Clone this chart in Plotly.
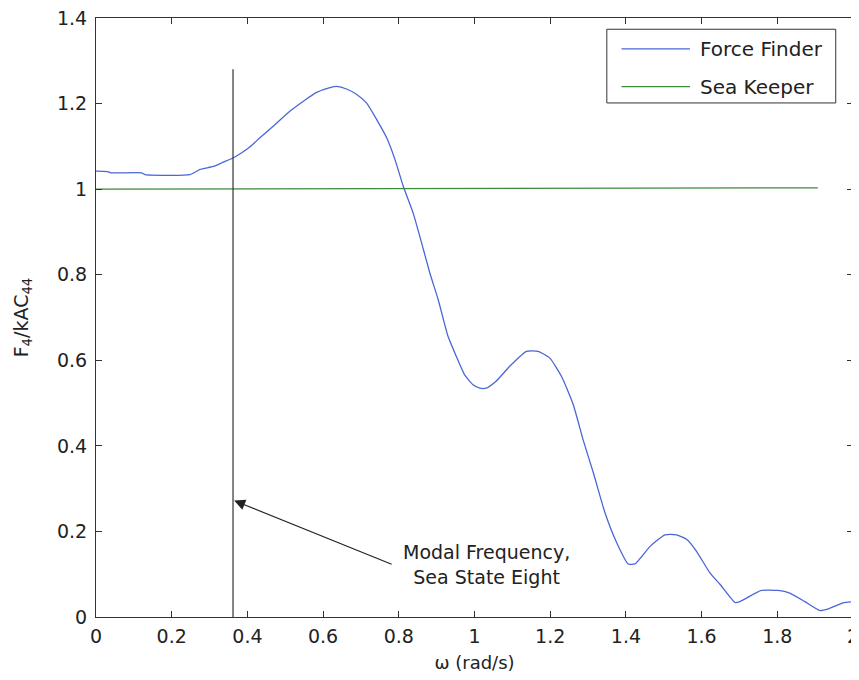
import plotly.graph_objects as go

# Force Finder curve
omega_ff = [0, 0.03, 0.04, 0.12, 0.13, 0.248, 0.275, 0.31, 0.336, 0.358, 0.385, 0.407,
            0.433, 0.468, 0.512, 0.547, 0.583, 0.618, 0.636, 0.662, 0.689, 0.715, 0.742,
            0.768, 0.790, 0.812, 0.838, 0.865, 0.882, 0.904, 0.930, 0.952, 0.974, 0.996,
            1.014, 1.031, 1.057, 1.093, 1.137, 1.168, 1.199, 1.230, 1.261, 1.287, 1.314,
            1.345, 1.376, 1.406, 1.424, 1.464, 1.503, 1.534, 1.561, 1.587, 1.622, 1.649,
            1.688, 1.701, 1.758, 1.802, 1.833, 1.873, 1.913, 1.935, 1.974, 2.0]
force_ff = [1.042, 1.041, 1.038, 1.038, 1.034, 1.034, 1.046, 1.053, 1.063, 1.071, 1.085,
            1.099, 1.120, 1.147, 1.182, 1.205, 1.226, 1.237, 1.240, 1.234, 1.221, 1.201,
            1.162, 1.120, 1.069, 1.006, 0.944, 0.859, 0.804, 0.742, 0.656, 0.609, 0.566,
            0.543, 0.535, 0.535, 0.551, 0.586, 0.621, 0.621, 0.605, 0.562, 0.496, 0.414,
            0.337, 0.243, 0.173, 0.124, 0.124, 0.165, 0.192, 0.192, 0.181, 0.153, 0.103,
            0.076, 0.034, 0.036, 0.062, 0.062, 0.056, 0.036, 0.015, 0.019, 0.033, 0.036]

# Sea Keeper
omega_sk = [0, 1.907]
force_sk = [1.0, 1.003]

# Modal frequency marker line
modal_omega = 0.362
modal_top = 1.28

# Annotation
note_text = "Modal Frequency,<br>Sea State Eight"
note_pos = (1.033, 0.122)
arrow_head = (0.365, 0.272)
arrow_tail = (0.785, 0.122)

x_ticks = [0, 0.2, 0.4, 0.6, 0.8, 1, 1.2, 1.4, 1.6, 1.8, 2]
x_ticklabels = ["0", "0.2", "0.4", "0.6", "0.8", "1", "1.2", "1.4", "1.6", "1.8", "2"]
y_ticks = [0, 0.2, 0.4, 0.6, 0.8, 1, 1.2, 1.4]
y_ticklabels = ["0", "0.2", "0.4", "0.6", "0.8", "1", "1.2", "1.4"]

series_names = ["Force Finder", "Sea Keeper"]
series_colors = ["#4a66d8", "#3c8a3c"]

FONT = "DejaVu Sans, Liberation Sans, Arial, sans-serif"
AX = "#333333"
TXT = "#222222"

fig = go.Figure()
fig.add_trace(go.Scatter(x=omega_ff, y=force_ff, mode="lines", name=series_names[0],
                         showlegend=False,
                         line=dict(color=series_colors[0], width=1.3, shape="spline",
                                   smoothing=0.5)))
fig.add_trace(go.Scatter(x=omega_sk, y=force_sk, mode="lines", name=series_names[1],
                         showlegend=False, line=dict(color=series_colors[1], width=1.3)))
fig.add_trace(go.Scatter(x=[modal_omega, modal_omega], y=[0, modal_top], mode="lines",
                         showlegend=False, line=dict(color="#333333", width=1.2)))

fig.add_annotation(x=arrow_head[0], y=arrow_head[1], ax=arrow_tail[0], ay=arrow_tail[1],
                   axref="x", ayref="y", xref="x", yref="y", text="", showarrow=True,
                   arrowhead=2, arrowsize=2.0, arrowwidth=1.1, arrowcolor="#222222")
fig.add_annotation(x=note_pos[0], y=note_pos[1], xref="x", yref="y", text=note_text,
                   showarrow=False, font=dict(family=FONT, size=19, color=TXT),
                   align="center")

# Legend box drawn in paper coordinates (MATLAB-style long sample lines)
leg_box = dict(x0=0.6748, x1=0.9772, y0=0.8582, y1=0.9812)
leg_line_x = (0.6942, 0.7846)
leg_rows_y = [0.9483, 0.8854]
leg_text_x = 0.795
fig.add_shape(type="rect", xref="paper", yref="paper", **leg_box,
              line=dict(color=AX, width=1), fillcolor="white", layer="above")
for name, color, yy in zip(series_names, series_colors, leg_rows_y):
    fig.add_shape(type="line", xref="paper", yref="paper", x0=leg_line_x[0], x1=leg_line_x[1],
                  y0=yy, y1=yy, line=dict(color=color, width=1.3), layer="above")
    fig.add_annotation(xref="paper", yref="paper", x=leg_text_x, y=yy, text=name,
                       showarrow=False, xanchor="left", yanchor="middle",
                       font=dict(family=FONT, size=20, color=TXT))

axis_common = dict(showline=True, linecolor=AX, linewidth=1, mirror="ticks",
                   ticks="inside", ticklen=6, tickcolor=AX, showgrid=False, zeroline=False,
                   automargin=False, ticklabeloverflow="allow",
                   tickfont=dict(family=FONT, size=19, color=TXT))

fig.update_xaxes(range=[0, 2], tickvals=x_ticks, ticktext=x_ticklabels,
                 title=dict(text="ω (rad/s)", font=dict(family=FONT, size=18, color=TXT),
                            standoff=10), ticklabelstandoff=2, **axis_common)
fig.update_yaxes(range=[0, 1.4], tickvals=y_ticks, ticktext=y_ticklabels,
                 title=dict(text="F<sub>4</sub>/kAC<sub>44</sub>",
                            font=dict(family=FONT, size=19, color=TXT), standoff=23),
                 ticklabelstandoff=4, **axis_common)

# The page body has an 8px default margin, so the figure is sized to fit the window.
fig.update_layout(
    width=851, height=672,
    margin=dict(l=88, r=6, t=10, b=63),
    paper_bgcolor="white", plot_bgcolor="white",
    showlegend=False,
)

fig.write_html("out.html")
